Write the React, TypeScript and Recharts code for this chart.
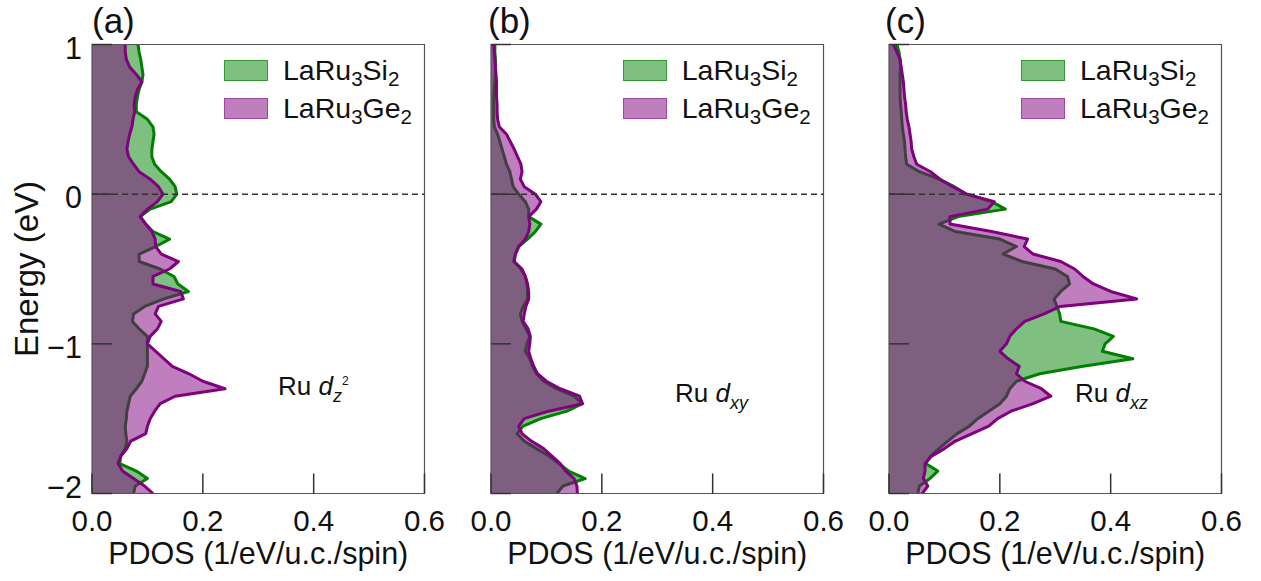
import React from 'react';
import { ComposedChart, Area, XAxis, YAxis, ReferenceLine, ReferenceArea, Legend, Label } from 'recharts';

const energy = [1, 0.95, 0.9, 0.85, 0.8, 0.75, 0.7, 0.65, 0.6, 0.55, 0.5, 0.45, 0.4, 0.35, 0.3, 0.25, 0.2, 0.15, 0.1, 0.05, 0, -0.05, -0.1, -0.15, -0.2, -0.25, -0.3, -0.35, -0.4, -0.45, -0.5, -0.55, -0.6, -0.65, -0.7, -0.75, -0.8, -0.85, -0.9, -0.95, -1, -1.05, -1.1, -1.15, -1.2, -1.25, -1.3, -1.35, -1.4, -1.45, -1.5, -1.55, -1.6, -1.65, -1.7, -1.75, -1.8, -1.85, -1.9, -1.95, -2];

const dz2Si = [0.083, 0.085, 0.088, 0.09, 0.092, 0.09, 0.085, 0.082, 0.08, 0.08,
  0.1, 0.11, 0.112, 0.11, 0.108, 0.108, 0.113, 0.125, 0.14, 0.15,
  0.153, 0.143, 0.105, 0.087, 0.097, 0.11, 0.14, 0.115, 0.085, 0.085,
  0.123, 0.148, 0.155, 0.174, 0.13, 0.095, 0.075, 0.073, 0.085, 0.1,
  0.1, 0.1, 0.1, 0.1, 0.095, 0.09, 0.08, 0.069, 0.066, 0.063,
  0.062, 0.06, 0.061, 0.063, 0.06, 0.052, 0.05, 0.08, 0.1, 0.078,
  0.075];
const dz2Ge = [0.06, 0.06, 0.062, 0.068, 0.08, 0.09, 0.082, 0.078, 0.076, 0.077,
  0.074, 0.072, 0.068, 0.065, 0.063, 0.066, 0.075, 0.085, 0.105, 0.12,
  0.128, 0.118, 0.1, 0.087, 0.097, 0.108, 0.114, 0.115, 0.125, 0.156,
  0.14, 0.11, 0.11, 0.16, 0.165, 0.12, 0.114, 0.125, 0.118, 0.105,
  0.1, 0.115, 0.13, 0.145, 0.175, 0.2, 0.24, 0.15, 0.123, 0.113,
  0.105, 0.1, 0.097, 0.07, 0.063, 0.052, 0.047, 0.055, 0.075, 0.095,
  0.11];
const dxySi = [0.007, 0.007, 0.008, 0.008, 0.008, 0.007, 0.006, 0.005, 0.005, 0.005,
  0.005, 0.006, 0.012, 0.016, 0.02, 0.024, 0.028, 0.034, 0.037, 0.04,
  0.05, 0.062, 0.068, 0.068, 0.09, 0.08, 0.066, 0.05, 0.044, 0.041,
  0.054, 0.062, 0.065, 0.066, 0.066, 0.058, 0.053, 0.056, 0.063, 0.07,
  0.065, 0.062, 0.07, 0.075, 0.082, 0.095, 0.118, 0.15, 0.165, 0.137,
  0.09, 0.058, 0.047, 0.06, 0.082, 0.105, 0.122, 0.14, 0.17, 0.13,
  0.119];
const dxyGe = [0.005, 0.006, 0.007, 0.008, 0.009, 0.01, 0.01, 0.01, 0.011, 0.011,
  0.012, 0.015, 0.028, 0.035, 0.042, 0.048, 0.054, 0.056, 0.053, 0.06,
  0.08, 0.09, 0.082, 0.068, 0.07, 0.068, 0.062, 0.05, 0.044, 0.042,
  0.056, 0.062, 0.066, 0.068, 0.068, 0.063, 0.06, 0.058, 0.067, 0.071,
  0.07, 0.068, 0.072, 0.077, 0.084, 0.1, 0.125, 0.16, 0.165, 0.104,
  0.06, 0.05, 0.056, 0.073, 0.095, 0.11, 0.125, 0.135, 0.15, 0.155,
  0.156];
const dxzSi = [0.014, 0.018, 0.02, 0.021, 0.02, 0.02, 0.02, 0.02, 0.021, 0.022,
  0.023, 0.024, 0.026, 0.028, 0.029, 0.03, 0.032, 0.055, 0.09, 0.118,
  0.14, 0.185, 0.21, 0.125, 0.09, 0.12, 0.2, 0.23, 0.206, 0.24,
  0.3, 0.322, 0.326, 0.31, 0.298, 0.303, 0.308, 0.31, 0.37, 0.405,
  0.39, 0.385, 0.44, 0.35, 0.272, 0.23, 0.218, 0.212, 0.2, 0.18,
  0.16, 0.145, 0.123, 0.106, 0.09, 0.075, 0.066, 0.088, 0.074, 0.055,
  0.052];
const dxzGe = [0.008, 0.014, 0.02, 0.022, 0.024, 0.026, 0.027, 0.028, 0.03, 0.031,
  0.033, 0.036, 0.038, 0.04, 0.041, 0.045, 0.05, 0.075, 0.092, 0.115,
  0.14, 0.19, 0.178, 0.11, 0.11, 0.185, 0.25, 0.244, 0.26, 0.31,
  0.335, 0.35, 0.369, 0.4, 0.447, 0.309, 0.28, 0.245, 0.23, 0.218,
  0.212, 0.2, 0.215, 0.235, 0.23, 0.245, 0.275, 0.292, 0.26, 0.22,
  0.196, 0.18, 0.15, 0.12, 0.1, 0.077, 0.065, 0.065, 0.062, 0.07,
  0.06];

const xTicks = [0, 0.2, 0.4, 0.6];
const yTicks = [-2, -1, 0, 1];
const seriesNames = ['LaRu3Si2', 'LaRu3Ge2'];
const seriesColors = ['#008000', '#800080'];
const panelLabels = ['(a)', '(b)', '(c)'];
const orbitalSubs = ['z', 'xy', 'xz'];
const orbitalSups = ['2', '', ''];

const FONT = "'Liberation Sans', Arial, Helvetica, sans-serif";
const TEXT = '#111';
const PLOT_W = 332.5;
const Y_W = 92;
const RIGHT = 40;
const CHART_W = Y_W + PLOT_W + RIGHT;
const CHART_H = 581;
const TOP = 44.5;
const X_H = 87.5;
const panelLefts = [0, 398.7, 797];

function buildRows(si: number[], ge: number[]) {
  return energy.map((e, i) => ({ e, si: si[i], ge: ge[i] }));
}

const XTick = (props: any) => {
  const { x, y, payload } = props;
  return (
    <g>
      <line x1={x} x2={x} y1={y} y2={y - 20} stroke="#333" strokeWidth={1.5} />
      <text x={x} y={y + 37.5} textAnchor="middle" fontFamily={FONT} fontSize={29.5} fill={TEXT}>
        {Number(payload.value).toFixed(1)}
      </text>
    </g>
  );
};

const makeYTick = (showLabel: boolean) => (props: any) => {
  const { x, y, payload } = props;
  const v = Number(payload.value);
  const s = v < 0 ? '\u2212' + Math.abs(v) : String(v);
  return (
    <g>
      <line x1={x} x2={x + 20} y1={y} y2={y} stroke="#333" strokeWidth={1.5} />
      {showLabel && (
        <text x={x - 10} y={v === -2 ? y + 4 : y + 14} textAnchor="end" fontFamily={FONT} fontSize={30.5} fill={TEXT}>{s}</text>
      )}
    </g>
  );
};

function formula(name: string) {
  const parts = name.split(/(\d+)/).filter((p) => p.length > 0);
  return parts.map((p, i) =>
    /^\d+$/.test(p) ? (
      <sub key={i} style={{ fontSize: '0.72em', verticalAlign: '-0.3em', lineHeight: 0 }}>{p}</sub>
    ) : (
      <span key={i}>{p}</span>
    )
  );
}

const renderLegend = () => (
  <div style={{ fontFamily: FONT, fontSize: 28.5, color: TEXT }}>
    {seriesNames.map((n, i) => (
      <div key={n} style={{ display: 'flex', alignItems: 'center', height: 38 }}>
        <div
          style={{
            width: 42,
            height: 19,
            background: i === 0 ? 'rgba(0,128,0,0.5)' : 'rgba(128,0,128,0.5)',
            border: i === 0 ? '1.5px solid rgba(0,128,0,0.6)' : '1.5px solid rgba(128,0,128,0.45)',
            marginRight: 15,
          }}
        />
        <div style={{ lineHeight: 1, whiteSpace: 'nowrap' }}>{formula(n)}</div>
      </div>
    ))}
  </div>
);

const EnergyLabel = (props: any) => {
  const vb = props.viewBox || {};
  const cx = 38;
  const cy = (vb.y || TOP) + (vb.height || 449) / 2;
  return (
    <text x={cx} y={cy} transform={`rotate(-90 ${cx} ${cy})`} textAnchor="middle" fontFamily={FONT} fontSize={33} fill={TEXT}>
      Energy (eV)
    </text>
  );
};

function Panel({ idx, si, ge }: { idx: number; si: number[]; ge: number[] }) {
  const rows = buildRows(si, ge);
  const showY = idx === 0;
  return (
    <div style={{ position: 'absolute', left: panelLefts[idx], top: 0, width: CHART_W, height: CHART_H }}>
      <ComposedChart
        width={CHART_W}
        height={CHART_H}
        layout="vertical"
        data={rows}
        margin={{ top: TOP, right: RIGHT, bottom: 0, left: 0 }}
      >
        <XAxis
          type="number"
          domain={[0, 0.6]}
          ticks={xTicks}
          interval={0}
          height={X_H}
          tickSize={0}
          tickMargin={0}
          tickLine={false}
          axisLine={false}
          tick={XTick}
          allowDataOverflow
        >
          <Label value="PDOS (1/eV/u.c./spin)" position="insideBottom" offset={17} fontFamily={FONT} fontSize={30.5} fill={TEXT} />
        </XAxis>
        <YAxis
          type="number"
          dataKey="e"
          domain={[-2, 1]}
          reversed
          ticks={yTicks}
          interval={0}
          width={Y_W}
          tickSize={0}
          tickMargin={0}
          tickLine={false}
          axisLine={false}
          tick={makeYTick(showY)}
          allowDataOverflow
        >
          {showY && <Label content={EnergyLabel} />}
        </YAxis>
        <Area
          dataKey="si"
          name={seriesNames[0]}
          type="linear"
          stroke={seriesColors[0]}
          strokeWidth={3}
          strokeLinejoin="round"
          fill={seriesColors[0]}
          fillOpacity={0.5}
          dot={false}
          activeDot={false}
          isAnimationActive={false}
        />
        <Area
          dataKey="ge"
          name={seriesNames[1]}
          type="linear"
          stroke={seriesColors[1]}
          strokeWidth={3}
          strokeLinejoin="round"
          fill={seriesColors[1]}
          fillOpacity={0.5}
          dot={false}
          activeDot={false}
          isAnimationActive={false}
        />
        <ReferenceLine y={0} stroke="#333" strokeWidth={1.5} strokeDasharray="6 4" />
        <ReferenceArea x1={0} x2={0.6} y1={-2} y2={1} fill="none" stroke="#555" strokeWidth={1.2} />
        <Legend
          layout="horizontal"
          verticalAlign="middle"
          align="center"
          content={renderLegend}
          wrapperStyle={{ left: Y_W + 132, top: 51, width: 'auto', height: 'auto' }}
        />
      </ComposedChart>
    </div>
  );
}

const annoX = [278, 675, 1075];
const annoY = [395, 402, 402];
const labelX = [92, 488, 885];

export default function App() {
  return (
    <div style={{ position: 'absolute', left: 0, top: 0, width: 1261, height: 581, background: '#fff', overflow: 'hidden' }}>
      <Panel idx={0} si={dz2Si} ge={dz2Ge} />
      <Panel idx={1} si={dxySi} ge={dxyGe} />
      <Panel idx={2} si={dxzSi} ge={dxzGe} />
      <svg width={1261} height={581} style={{ position: 'absolute', left: 0, top: 0, pointerEvents: 'none' }}>
        {panelLabels.map((l, i) => (
          <text key={l} x={labelX[i]} y={33} fontFamily={FONT} fontSize={35} fill={TEXT}>{l}</text>
        ))}
        {orbitalSubs.map((s, i) => (
          <text key={s} x={annoX[i]} y={annoY[i]} fontFamily={FONT} fontSize={26} fill={TEXT}>
            Ru <tspan fontStyle="italic">d</tspan><tspan fontStyle="italic" fontSize={18} dy={7}>{s}</tspan>{orbitalSups[i] && <tspan fontSize={12} dy={-17}>{orbitalSups[i]}</tspan>}
          </text>
        ))}
      </svg>
    </div>
  );
}
